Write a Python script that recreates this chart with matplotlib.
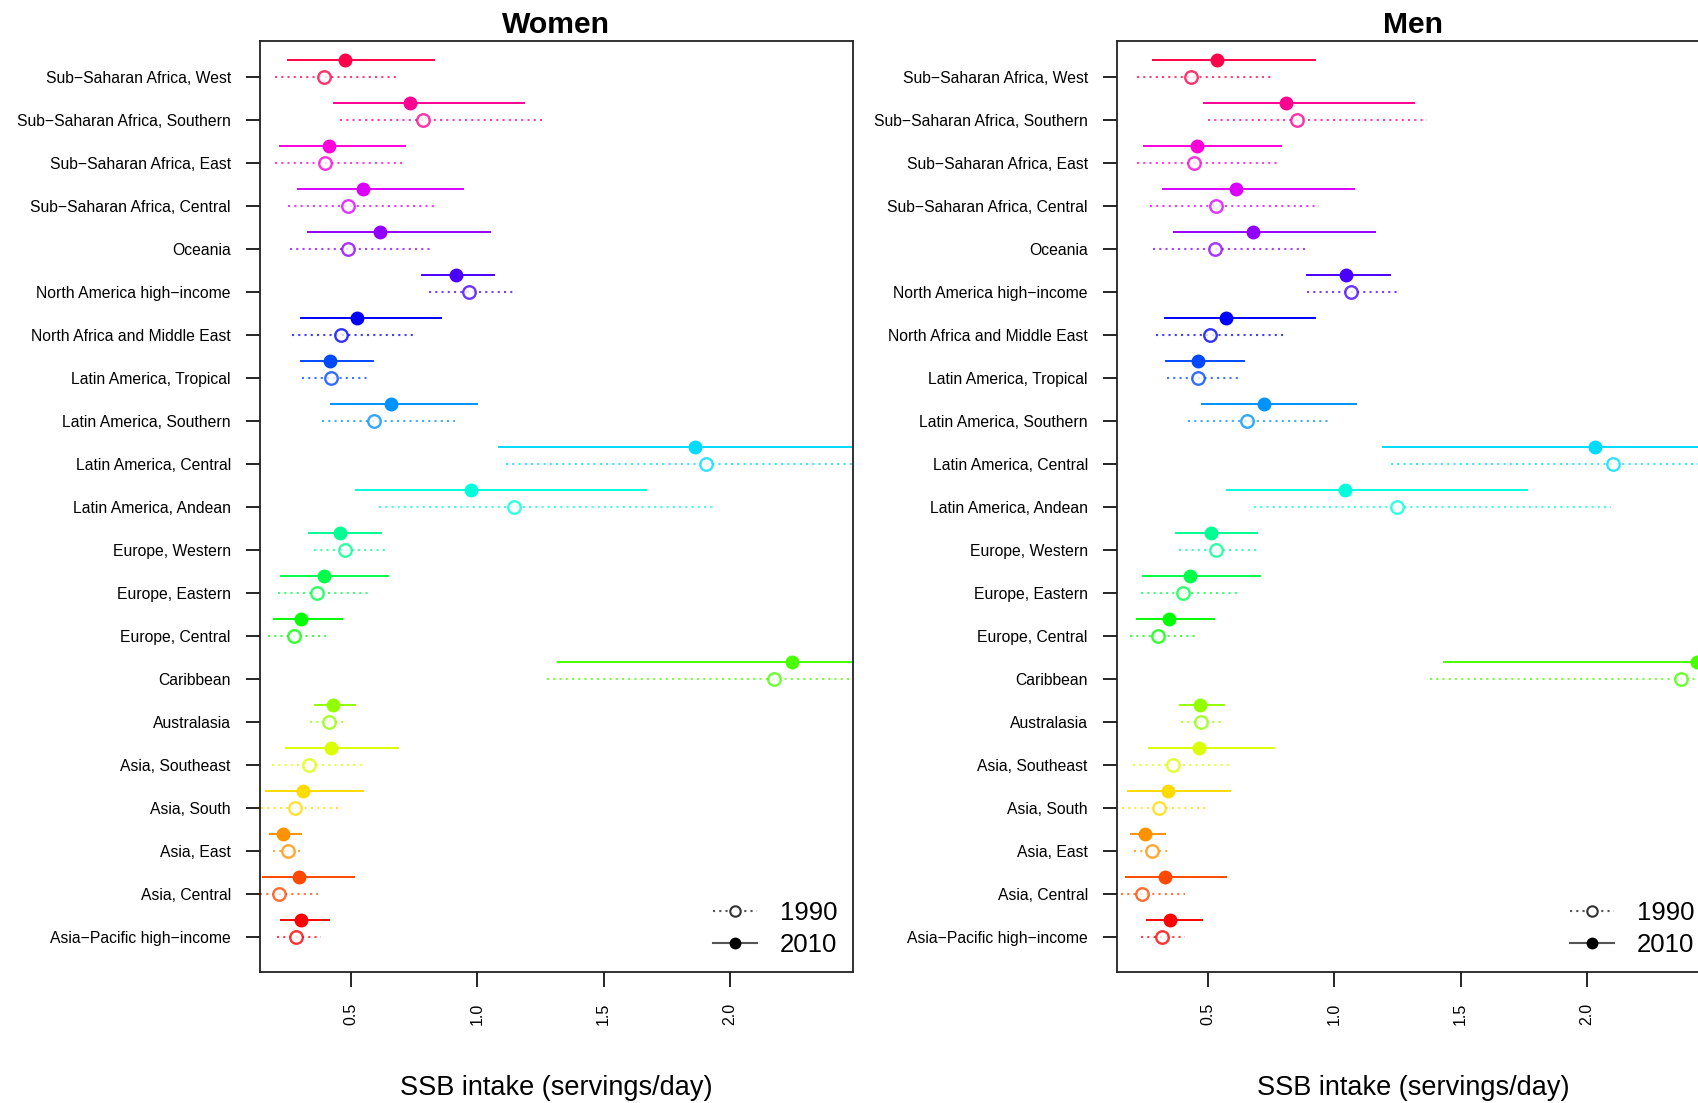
import matplotlib
matplotlib.use("Agg")
import matplotlib.pyplot as plt
from matplotlib.colors import hsv_to_rgb
from matplotlib.lines import Line2D

plt.rcParams['font.family'] = ['Liberation Sans', 'DejaVu Sans']

regions = ["Sub−Saharan Africa, West", "Sub−Saharan Africa, Southern",
           "Sub−Saharan Africa, East", "Sub−Saharan Africa, Central", "Oceania",
           "North America high−income", "North Africa and Middle East",
           "Latin America, Tropical", "Latin America, Southern",
           "Latin America, Central", "Latin America, Andean", "Europe, Western",
           "Europe, Eastern", "Europe, Central", "Caribbean", "Australasia",
           "Asia, Southeast", "Asia, South", "Asia, East", "Asia, Central",
           "Asia−Pacific high−income"]

# women
w10 = [0.477, 0.735, 0.414, 0.549, 0.616, 0.915, 0.523, 0.418, 0.660, 1.861, 0.974,
       0.458, 0.394, 0.304, 2.244, 0.431, 0.421, 0.312, 0.233, 0.293, 0.301]
w10_lo = [0.250, 0.434, 0.221, 0.290, 0.332, 0.781, 0.302, 0.301, 0.420, 1.086, 0.520,
          0.333, 0.222, 0.194, 1.321, 0.358, 0.245, 0.165, 0.179, 0.153, 0.222]
w10_hi = [0.827, 1.187, 0.715, 0.944, 1.051, 1.068, 0.855, 0.588, 1.000, 2.650, 1.670,
          0.619, 0.648, 0.463, 3.100, 0.515, 0.685, 0.549, 0.301, 0.512, 0.415]
w90 = [0.395, 0.784, 0.398, 0.488, 0.488, 0.969, 0.460, 0.420, 0.593, 1.907, 1.145,
       0.478, 0.364, 0.275, 2.174, 0.412, 0.333, 0.278, 0.250, 0.215, 0.281]
w90_lo = [0.199, 0.458, 0.199, 0.253, 0.259, 0.809, 0.265, 0.307, 0.384, 1.113, 0.613,
          0.353, 0.210, 0.171, 1.275, 0.338, 0.188, 0.145, 0.191, 0.142, 0.207]
w90_hi = [0.677, 1.269, 0.705, 0.841, 0.818, 1.151, 0.744, 0.562, 0.914, 2.750, 1.943,
          0.636, 0.577, 0.400, 3.050, 0.481, 0.554, 0.458, 0.307, 0.370, 0.383]

# men
m10 = [0.536, 0.811, 0.458, 0.611, 0.677, 1.045, 0.571, 0.461, 0.723, 2.033, 1.042,
       0.513, 0.429, 0.347, 2.435, 0.467, 0.464, 0.341, 0.253, 0.329, 0.350]
m10_lo = [0.283, 0.484, 0.247, 0.322, 0.365, 0.891, 0.332, 0.334, 0.475, 1.195, 0.574,
          0.375, 0.243, 0.221, 1.435, 0.389, 0.268, 0.185, 0.197, 0.176, 0.261]
m10_hi = [0.925, 1.314, 0.791, 1.080, 1.163, 1.221, 0.926, 0.643, 1.085, 2.900, 1.763,
          0.695, 0.708, 0.524, 3.400, 0.564, 0.763, 0.586, 0.329, 0.573, 0.475]
m90 = [0.435, 0.852, 0.444, 0.531, 0.530, 1.068, 0.507, 0.461, 0.655, 2.105, 1.250,
       0.531, 0.403, 0.304, 2.374, 0.473, 0.362, 0.307, 0.277, 0.241, 0.320]
m90_lo = [0.218, 0.501, 0.221, 0.271, 0.283, 0.891, 0.295, 0.337, 0.420, 1.225, 0.683,
          0.387, 0.236, 0.192, 1.380, 0.392, 0.203, 0.161, 0.209, 0.155, 0.236]
m90_hi = [0.753, 1.366, 0.782, 0.941, 0.898, 1.258, 0.800, 0.622, 0.978, 3.000, 2.094,
          0.699, 0.628, 0.448, 3.350, 0.564, 0.597, 0.503, 0.354, 0.411, 0.411]

n = len(regions)
# rainbow colours, red at the bottom row going round the hue wheel upwards
colors = [hsv_to_rgb(((n - 1 - i) / n, 1, 1)) for i in range(n)]

fig = plt.figure(figsize=(16.99, 11.03), dpi=100)
ax_w = fig.add_axes([0.1530, 0.1188, 0.3490, 0.8440])
ax_m = fig.add_axes([0.6574, 0.1188, 0.3490, 0.8440])


def panel(ax, title, v10, lo10, hi10, v90, lo90, hi90):
    for i in range(n):
        y = n - i
        c = colors[i]
        ax.plot([lo90[i], hi90[i]], [y, y], color=c, alpha=0.75, lw=1.5,
                dashes=(1, 2))
        ax.plot(v90[i], y, 'o', mfc='white', mec=c, alpha=0.8, ms=9, mew=1.7)
        ax.plot([lo10[i], hi10[i]], [y + 0.4, y + 0.4], color=c, lw=1.4)
        ax.plot(v10[i], y + 0.4, 'o', color=c, ms=9)
    ax.set_xlim(0.14, 2.487)
    ax.set_ylim(0.19, 21.84)
    ax.set_yticks(range(n, 0, -1))
    ax.set_yticklabels(regions, fontsize=11.3)
    ax.set_xticks([0.5, 1.0, 1.5, 2.0])
    ax.set_xticklabels(['0.5', '1.0', '1.5', '2.0'], rotation=90, fontsize=11.5)
    ax.tick_params(axis='y', length=10, width=1.2, pad=11)
    ax.tick_params(axis='x', length=11, width=1.2, pad=11)
    for s in ax.spines.values():
        s.set_linewidth(1.3)
        s.set_color('#222222')
    ax.set_title(title, fontsize=21.7, fontweight='bold', pad=6)
    ax.set_xlabel('SSB intake (servings/day)', fontsize=19.5, labelpad=36)
    handles = [
        Line2D([], [], color='#555555', lw=1.5, dashes=(1, 2), marker='o',
               mfc='white', mec='#333333', ms=7.5, mew=1.5),
        Line2D([], [], color='#555555', lw=1.5, marker='o', mfc='black',
               mec='black', ms=7.5),
    ]
    ax.legend(handles, ['1990', '2010'], loc='lower right', frameon=False,
              fontsize=18.5, handlelength=1.7, handletextpad=0.9,
              labelspacing=0.3, borderaxespad=0.2)


panel(ax_w, 'Women', w10, w10_lo, w10_hi, w90, w90_lo, w90_hi)
panel(ax_m, 'Men', m10, m10_lo, m10_hi, m90, m90_lo, m90_hi)

fig.savefig('out.png', dpi=100)
